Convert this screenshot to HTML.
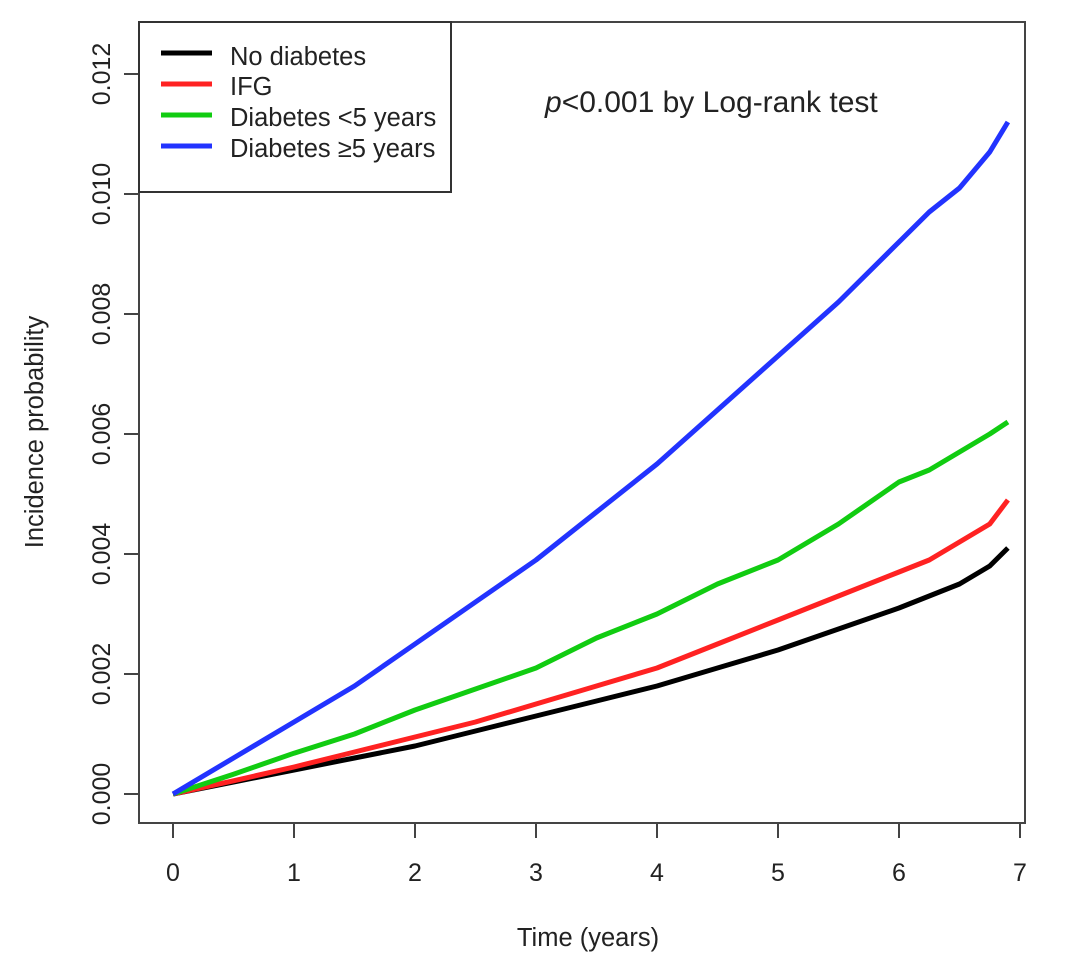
<!DOCTYPE html>
<html><head><meta charset="utf-8"><style>
body{margin:0;background:#fff}
text{font-family:"Liberation Sans",Arial,sans-serif;fill:#222}
</style></head><body>
<svg id="chart" width="1080" height="963" xmlns="http://www.w3.org/2000/svg">
<rect x="139" y="22" width="886" height="801" fill="none" stroke="#444" stroke-width="2"/>
<g id="axes"></g>
<g id="series"></g>
<g>
<rect x="139" y="22" width="312" height="170" fill="#fff" stroke="#333" stroke-width="2"/>
<g><line x1="161" y1="53" x2="212" y2="53" stroke="#000" stroke-width="5"/><text x="230" y="65" font-size="25.5">No diabetes</text></g>
<g><line x1="161" y1="84" x2="212" y2="84" stroke="#f22" stroke-width="5"/><text x="230" y="95" font-size="25.5">IFG</text></g>
<g><line x1="161" y1="115" x2="212" y2="115" stroke="#1c1" stroke-width="5"/><text x="230" y="126" font-size="25.5">Diabetes &lt;5 years</text></g>
<g><line x1="161" y1="146" x2="212" y2="146" stroke="#23f" stroke-width="5"/><text x="230" y="157" font-size="25.5">Diabetes ≥5 years</text></g>
</g>
<text x="545" y="112" font-size="30"><tspan font-style="italic">p</tspan>&lt;0.001 by Log-rank test</text>
<text x="588" y="946" font-size="25.5" text-anchor="middle">Time (years)</text>
<text transform="translate(43,432) rotate(-90)" font-size="25.5" text-anchor="middle">Incidence probability</text>
</svg>
<script>
const times=[0,0.5,1,1.5,2,2.5,3,3.5,4,4.5,5,5.5,6,6.25,6.5,6.75,6.9];
const noDiabetes=[0,0.0002,0.0004,0.0006,0.0008,0.00105,0.0013,0.00155,0.0018,0.0021,0.0024,0.00275,0.0031,0.0033,0.0035,0.0038,0.0041];
const ifg=[0,0.00022,0.00045,0.0007,0.00095,0.0012,0.0015,0.0018,0.0021,0.0025,0.0029,0.0033,0.0037,0.0039,0.0042,0.0045,0.0049];
const diabLt5=[0,0.00033,0.00068,0.001,0.0014,0.00175,0.0021,0.0026,0.003,0.0035,0.0039,0.0045,0.0052,0.0054,0.0057,0.006,0.0062];
const diabGe5=[0,0.0006,0.0012,0.0018,0.0025,0.0032,0.0039,0.0047,0.0055,0.0064,0.0073,0.0082,0.0092,0.0097,0.0101,0.0107,0.0112];
const xTicks=[0,1,2,3,4,5,6,7];
const yTicks=[0,0.002,0.004,0.006,0.008,0.010,0.012];
const xS=t=>173+t*121;
const yS=v=>794-v*60000;
const NS="http://www.w3.org/2000/svg";
const axes=document.getElementById('axes');
function mk(tag,attrs,parent){const e=document.createElementNS(NS,tag);for(const k in attrs)e.setAttribute(k,attrs[k]);parent.appendChild(e);return e;}
xTicks.forEach(t=>{
 const l=mk('line',{x1:xS(t),x2:xS(t),y1:823,y2:838,stroke:'#444','stroke-width':2},axes);
 
 
 const tx=mk('text',{x:xS(t),y:881,'font-size':25,'text-anchor':'middle'},axes);tx.textContent=t;
 
 
});
yTicks.forEach(v=>{
 const l=mk('line',{x1:124,x2:139,y1:yS(v),y2:yS(v),stroke:'#444','stroke-width':2},axes);
 
 
 const tx=mk('text',{transform:`translate(110,${yS(v)}) rotate(-90)`,'font-size':25,'text-anchor':'middle'},axes);tx.textContent=v.toFixed(3);
 
 
});
const sg=document.getElementById('series');
[[noDiabetes,'#000','line-no-diabetes'],[ifg,'#f22','line-ifg'],[diabLt5,'#1c1','line-diabetes-lt5'],[diabGe5,'#23f','line-diabetes-ge5']].forEach(([d,c,n])=>{
 const p=mk('polyline',{points:d.map((v,i)=>xS(times[i])+','+yS(v)).join(' '),fill:'none',stroke:c,'stroke-width':5,'stroke-linejoin':'round'},sg);
 
 
});
</script>
</body></html>
